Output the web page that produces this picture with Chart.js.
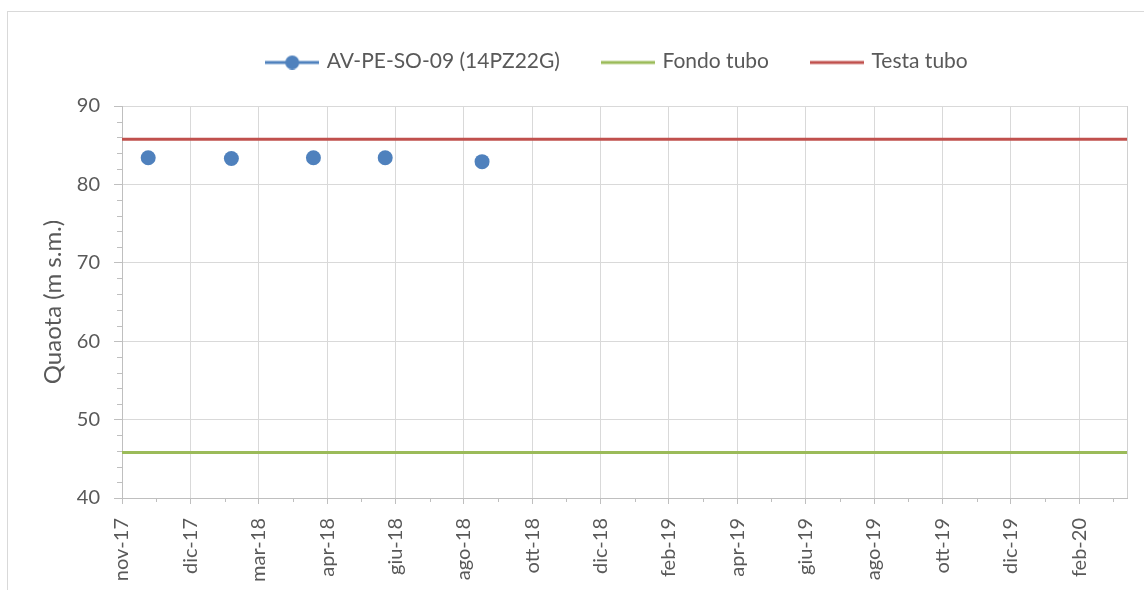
<!DOCTYPE html>
<html>
<head>
<meta charset="utf-8">
<script src="https://cdn.jsdelivr.net/npm/chart.js@4.4.0/dist/chart.umd.min.js"></script>
<style>
  html, body { margin: 0; padding: 0; background: #fff; }
  #wrap { position: relative; width: 1144px; height: 590px; }
  #frame { position: absolute; left: 7px; top: 11px; right: -2px; bottom: -2px; border-left: 1px solid #d9d9d9; border-top: 1px solid #d9d9d9; }
  canvas { position: absolute; left: 0; top: 0; }
</style>
</head>
<body>
<div id="wrap">
  <div id="frame"></div>
  <canvas id="quotaChart" width="1144" height="590"></canvas>
</div>
<script>
// axis range (dates) and tick labels, one every 60 days like the Excel date axis
const axisStart = '2017-11-01';
const axisEnd = '2020-04-01';
const tickStepDays = 60;
const tickLabels = ['nov-17', 'dic-17', 'mar-18', 'apr-18', 'giu-18', 'ago-18', 'ott-18',
  'dic-18', 'feb-19', 'apr-19', 'giu-19', 'ago-19', 'ott-19', 'dic-19', 'feb-20'];

// piezometer readings
const sampleDates = ['2017-11-24', '2018-02-05', '2018-04-18', '2018-06-20', '2018-09-13'];
const quotaValues = [83.4, 83.3, 83.4, 83.4, 82.9];

// tube bottom / top levels
const fondoTubo = [45.8, 45.8];
const testaTubo = [85.75, 85.75];

const seriesNames = ['AV-PE-SO-09 (14PZ22G)', 'Fondo tubo', 'Testa tubo'];
const BLUE = '#4f81bd', GREEN = '#9bbb59', RED = '#c0504d';
const TXT = '#595959';
const FONT = 'Lato, "Open Sans", sans-serif';

const dayOf = (d) => Math.round((Date.parse(d) - Date.parse(axisStart)) / 86400000);
const xMax = dayOf(axisEnd);

function legendIcon(color, withMarker) {
  const c = document.createElement('canvas');
  c.width = 54;
  c.height = 16;
  const g = c.getContext('2d');
  g.strokeStyle = color;
  g.lineWidth = 3;
  g.beginPath();
  g.moveTo(0, 9);
  g.lineTo(54, 9);
  g.stroke();
  if (withMarker) {
    g.fillStyle = color;
    g.beginPath();
    g.arc(27, 9, 7, 0, Math.PI * 2);
    g.fill();
  }
  return c;
}
const icons = [legendIcon(BLUE, true), legendIcon(GREEN, false), legendIcon(RED, false)];

// extra space under the legend + shift it over the plot area
const legendTweak = {
  id: 'legendTweak',
  beforeInit(chart) {
    const fit = chart.legend.fit;
    chart.legend.fit = function () {
      fit.bind(chart.legend)();
      this.height += 24;
    };
  },
  afterLayout(chart) {
    chart.legend.left = 109;
  },
};

// minor ticks (Excel style) + right border of plot area
const minorTicks = {
  id: 'minorTicks',
  afterDraw(chart) {
    const { ctx, chartArea: a, scales: { x, y } } = chart;
    ctx.save();
    ctx.strokeStyle = '#bfbfbf';
    ctx.lineWidth = 1;
    ctx.beginPath();
    for (let d = tickStepDays / 2; d <= xMax; d += tickStepDays) {
      const px = Math.round(x.getPixelForValue(d)) + 0.5;
      ctx.moveTo(px, a.bottom);
      ctx.lineTo(px, a.bottom + 4);
    }
    for (let v = y.min; v <= y.max; v += 2) {
      if (v % 10 === 0) continue;
      const py = Math.round(y.getPixelForValue(v)) + 0.5;
      ctx.moveTo(a.left - 5, py);
      ctx.lineTo(a.left, py);
    }
    ctx.stroke();
    ctx.strokeStyle = '#d0d0d0';
    ctx.beginPath();
    ctx.moveTo(Math.round(a.right) + 0.5, a.top);
    ctx.lineTo(Math.round(a.right) + 0.5, a.bottom);
    ctx.stroke();
    ctx.restore();
  },
};

new Chart(document.getElementById('quotaChart'), {
  type: 'scatter',
  data: {
    datasets: [
      {
        label: seriesNames[0],
        data: sampleDates.map((d, i) => ({ x: dayOf(d), y: quotaValues[i] })),
        showLine: false,
        pointRadius: 7.5,
        pointBackgroundColor: BLUE,
        pointBorderWidth: 0,
      },
      {
        label: seriesNames[1],
        data: [axisStart, axisEnd].map((d, i) => ({ x: dayOf(d), y: fondoTubo[i] })),
        showLine: true,
        borderColor: GREEN,
        borderWidth: 3,
        pointRadius: 0,
      },
      {
        label: seriesNames[2],
        data: [axisStart, axisEnd].map((d, i) => ({ x: dayOf(d), y: testaTubo[i] })),
        showLine: true,
        borderColor: RED,
        borderWidth: 3,
        pointRadius: 0,
      },
    ],
  },
  options: {
    responsive: false,
    animation: false,
    layout: { padding: { top: 7, left: 0, right: 17, bottom: 0 } },
    plugins: {
      tooltip: { enabled: false },
      legend: {
        position: 'top',
        labels: {
          usePointStyle: true,
          pointStyleWidth: 48,
          padding: 44,
          color: TXT,
          font: { family: FONT, size: 21 },
          generateLabels: (chart) =>
            chart.data.datasets.map((ds, i) => ({
              text: ds.label,
              pointStyle: icons[i],
              fontColor: TXT,
              fillStyle: 'transparent',
              strokeStyle: 'transparent',
              lineWidth: 0,
              hidden: false,
              datasetIndex: i,
            })),
        },
      },
    },
    scales: {
      x: {
        type: 'linear',
        min: 0,
        max: xMax,
        afterBuildTicks: (scale) => {
          scale.ticks = tickLabels.map((_, i) => ({ value: i * tickStepDays }));
        },
        afterFit: (scale) => { scale.height = 92; },
        ticks: {
          autoSkip: false,
          maxRotation: 90,
          minRotation: 90,
          padding: 14,
          color: TXT,
          font: { family: FONT, size: 20 },
          callback: (v, i) => tickLabels[i],
        },
        grid: { color: '#d9d9d9', tickColor: '#bfbfbf', tickLength: 6 },
        border: { color: '#bfbfbf' },
      },
      y: {
        min: 40,
        max: 90,
        afterFit: (scale) => { scale.width = 122; },
        ticks: {
          stepSize: 10,
          padding: 14,
          color: TXT,
          font: { family: FONT, size: 20 },
        },
        grid: { color: '#d9d9d9', tickColor: '#bfbfbf', tickLength: 8 },
        border: { color: '#bfbfbf' },
        title: {
          display: true,
          text: 'Quaota (m s.m.)',
          color: TXT,
          font: { family: FONT, size: 24 },
          padding: { top: 39, bottom: 0 },
        },
      },
    },
  },
  plugins: [legendTweak, minorTicks],
});
</script>
</body>
</html>
